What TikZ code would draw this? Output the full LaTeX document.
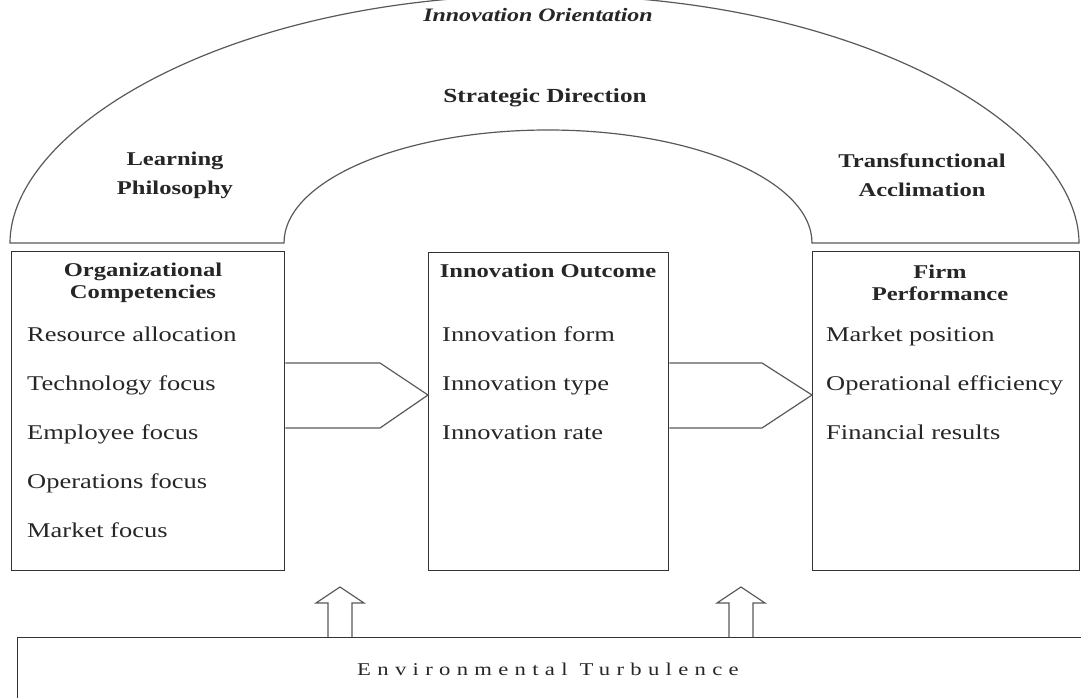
\documentclass[tikz,border=0pt]{standalone}
\usepackage{fontspec}
\setmainfont{Liberation Serif}[FakeStretch=1.26]
\begin{document}
\begin{tikzpicture}[x=1pt,y=-1pt,
  boxline/.style={draw=black!80, line width=1.3pt, inner sep=0pt},
  archline/.style={draw=black!65, line width=1.2pt},
  arrline/.style={draw=black!65, line width=1.2pt, line join=miter},
  hdr/.style={font=\fontsize{19.5}{22}\selectfont\bfseries, align=center, text=black!85, inner sep=0pt},
  item/.style={font=\fontsize{21}{24}\selectfont, anchor=base west, text=black!85, inner sep=0pt},
  ]
\useasboundingbox (0,0) rectangle (1081,698);
\clip (0,0) rectangle (1081,698);
% arch
\draw[archline] (10,243) .. controls (10,130) and (225,-5) .. (545,-5)
  .. controls (865,-5) and (1079,130) .. (1079,243)
  -- (812,243) arc[start angle=0,end angle=-180,x radius=264,y radius=113] -- cycle;
\node[hdr, font=\fontsize{19}{22}\selectfont\bfseries\itshape] (orient) at (538,15) {Innovation Orientation};
\node[hdr, font=\fontsize{20}{22}\selectfont\bfseries] (strat) at (545,98) {Strategic Direction};
\node[hdr, font=\fontsize{19.5}{29}\selectfont\bfseries] (learn) at (175,175) {Learning\\Philosophy};
\node[hdr, font=\fontsize{19.5}{29}\selectfont\bfseries] (trans) at (922,175) {Transfunctional\\Acclimation};
% boxes
\node[boxline, anchor=north west, minimum width=273pt, minimum height=319pt] (oc) at (11,251) {};
\node[boxline, anchor=north west, minimum width=240pt, minimum height=318pt] (io) at (428,252) {};
\node[boxline, anchor=north west, minimum width=267pt, minimum height=319pt] (fp) at (812,251) {};
\node[boxline, anchor=north west, minimum width=1100pt, minimum height=120pt] (et) at (17,637) {};
% headers
\node[hdr] (och) at (143,283) {Organizational\\Competencies};
\node[hdr] (ioh) at (548,271) {Innovation Outcome};
\node[hdr] (fph) at (940,283) {Firm\\Performance};
% items
\node[item] (oc1) at (27,341) {Resource allocation};
\node[item] (oc2) at (27,390) {Technology focus};
\node[item] (oc3) at (27,439) {Employee focus};
\node[item] (oc4) at (27,488) {Operations focus};
\node[item] (oc5) at (27,537) {Market focus};
\node[item] (io1) at (442,341) {Innovation form};
\node[item] (io2) at (442,390) {Innovation type};
\node[item] (io3) at (442,439) {Innovation rate};
\node[item] (fp1) at (826,341) {Market position};
\node[item] (fp2) at (826,390) {Operational efficiency};
\node[item] (fp3) at (826,439) {Financial results};
% pentagon arrows
\draw[arrline] (oc.east |- 0,363) -- (380,363) -- (io.west |- 0,395) -- (380,428) -- (oc.east |- 0,428);
\draw[arrline] (io.east |- 0,363) -- (762,363) -- (fp.west |- 0,395) -- (762,428) -- (io.east |- 0,428);
% up arrows
\draw[arrline] (328,637) -- (328,603) -- (316,603) -- (340,587) -- (364,603) -- (352,603) -- (352,637);
\draw[arrline] (729,637) -- (729,603) -- (717,603) -- (741,587) -- (765,603) -- (753,603) -- (753,637);
% environmental turbulence
\node[inner sep=0pt, text=black!85, font=\fontsize{18}{22}\selectfont\addfontfeature{LetterSpace=35}] (ett) at (548,669) {Environmental Turbulence};
\end{tikzpicture}
\end{document}
